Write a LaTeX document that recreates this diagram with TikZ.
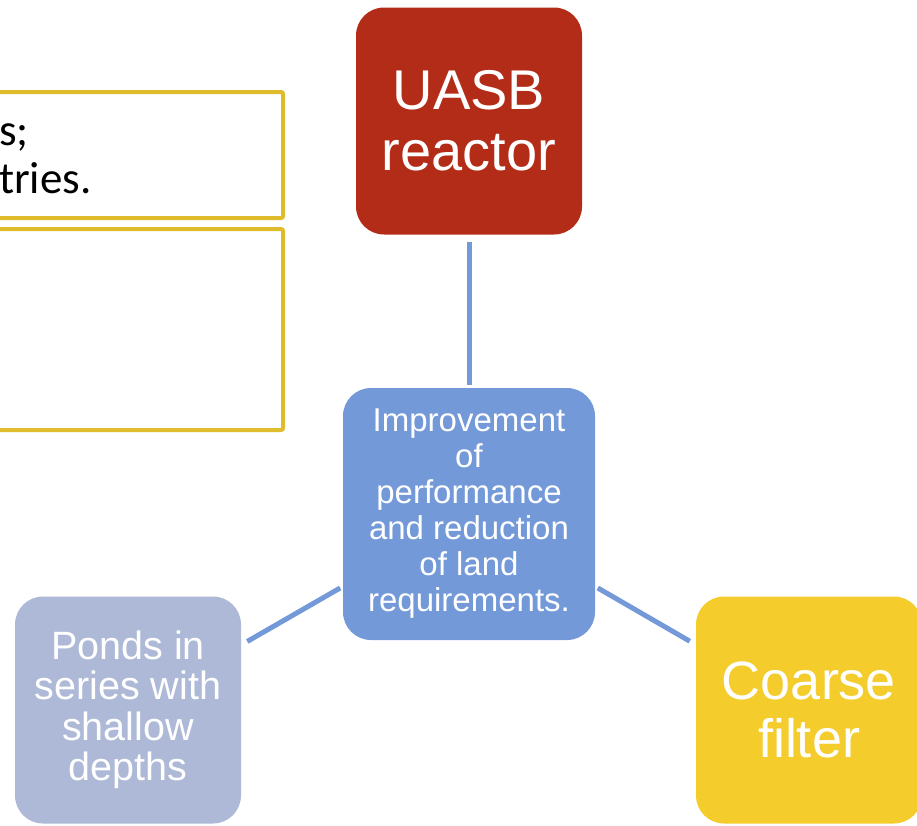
\documentclass[tikz,border=0pt]{standalone}
\usepackage{fontspec}
\setmainfont{Liberation Sans}
\newfontfamily\notefont{Carlito}
\definecolor{uasbred}{RGB}{179,44,23}
\definecolor{coreblue}{RGB}{116,153,216}
\definecolor{pondgray}{RGB}{173,185,214}
\definecolor{filteryellow}{RGB}{244,205,45}
\definecolor{framegold}{RGB}{223,188,44}
\tikzset{unit/.style={rounded corners=28pt,inner sep=0pt,text=white,align=center,
 minimum width=226pt,minimum height=227pt},
 link/.style={draw=coreblue,line width=5pt,shorten <=7pt,shorten >=3pt},
 cut/.style={anchor=base west,inner sep=0pt,font=\notefont\fontsize{45}{48}\selectfont}}
\begin{document}
\begin{tikzpicture}[x=1pt,y=-1pt]
\clip (0,0) rectangle (917,825);
% frames running off the left edge
\draw[framegold,line width=4pt,rounded corners=2pt] (-20,92) rectangle (283,218)
 (-20,229) rectangle (283,430);
\node[cut] (semi) at (-1,145) {s;};
\node[cut] (tries) at (-1,193) {tries.};
\node[unit,fill=uasbred,font=\fontsize{56}{61}\selectfont] (uasb) at (469,121) {UASB\\reactor};
\node[unit,fill=coreblue,minimum width=252pt,minimum height=252pt,
 font=\fontsize{33}{36}\selectfont] (core) at (469,514)
 {Improvement\\of\\performance\\and reduction\\of land\\requirements.};
\node[unit,fill=pondgray,font=\fontsize{39.5}{40.5}\selectfont] (ponds) at (128,710)
 {Ponds in\\series with\\shallow\\depths};
\node[unit,fill=filteryellow,font=\fontsize{54}{58}\selectfont] (coarse) at (809,710) {Coarse\\filter};
\draw[link] (uasb) -- (core);
\draw[link] (ponds) -- (core);
\draw[link] (coarse) -- (core);
\end{tikzpicture}
\end{document}
